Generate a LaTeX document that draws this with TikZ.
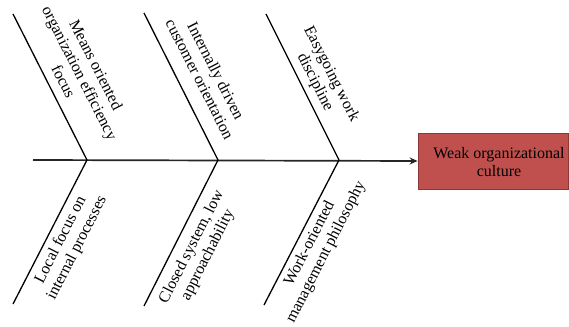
\documentclass[tikz,border=0pt]{standalone}
\usepackage{fontspec}
\setmainfont{Liberation Serif}
\usetikzlibrary{arrows.meta}
\definecolor{boxfill}{RGB}{192,80,77}
\definecolor{boxline}{RGB}{140,56,54}
\begin{document}
\begin{tikzpicture}[x=1pt,y=1pt,
  bone/.style={line width=1.3pt, black},
  spine/.style={line width=1.7pt, black!85, -{Stealth[length=8pt,width=7pt]}},
  lbl/.style={align=center, inner sep=0pt, font=\fontsize{16}{18.2}\selectfont},
  effect/.style={draw=boxline, line width=0.8pt, fill=boxfill, minimum width=150pt, minimum height=56pt, inner sep=0pt}]
\useasboundingbox (0,0) rectangle (569,326);
% coordinates
\coordinate (s) at (33,166);
\coordinate (j1) at (87,166);
\coordinate (j2) at (218,166);
\coordinate (j3) at (339,166);
\coordinate (t1) at (13,312);
\coordinate (t2) at (144,313);
\coordinate (t3) at (266,312);
\coordinate (b1) at (13,22);
\coordinate (b2) at (144,20);
\coordinate (b3) at (264,21);
% effect box
\node[effect] (eff) at (493,165) {};
\node[lbl] (efftxt) at (499,164) {Weak organizational\\culture};
% spine
\draw[spine] (s) -- (eff.west);
% bones
\draw[bone] (t1) -- (j1) -- (b1);
\draw[bone] (t2) -- (j2) -- (b2);
\draw[bone] (t3) -- (j3) -- (b3);
% labels
\node[lbl, rotate=-63] (l1) at (80,253) {Means oriented\\organization efficiency\\focus};
\node[lbl, rotate=-63] (l2) at (208,251) {Internally driven\\customer orientation};
\node[lbl, rotate=-63] (l3) at (323,248) {Easygoing work\\discipline};
\node[lbl, rotate=63] (l4) at (69,82) {Local focus on\\internal processes};
\node[lbl, rotate=63] (l5) at (200,75) {Closed system, low\\approachability};
\node[lbl, rotate=63] (l6) at (318,78) {Work-oriented\\management philosophy};
\end{tikzpicture}
\end{document}
